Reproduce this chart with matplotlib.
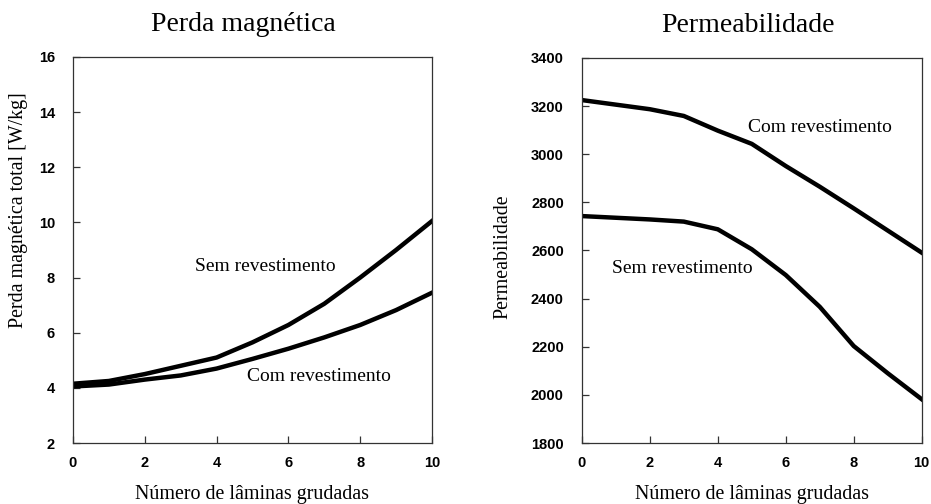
import numpy as np
import matplotlib.pyplot as plt

# dados
laminas = [0, 1, 2, 3, 4, 5, 6, 7, 8, 9, 10]
perda_sem = [4.15, 4.25, 4.5, 4.8, 5.1, 5.65, 6.28, 7.05, 8.0, 9.0, 10.05]
perda_com = [4.05, 4.12, 4.3, 4.45, 4.7, 5.05, 5.42, 5.83, 6.28, 6.82, 7.45]

laminas_p = [0, 2, 3, 4, 5, 6, 7, 8, 9, 10]
perm_com = [3225, 3187, 3159, 3098, 3043, 2951, 2865, 2775, 2683, 2591]
perm_sem = [2743, 2729, 2720, 2688, 2605, 2498, 2366, 2203, 2090, 1982]

serif = 'Liberation Serif'
sans = 'Liberation Sans'

fig = plt.figure(figsize=(9.31, 5.04), dpi=100)
ax1 = fig.add_axes([0.0784, 0.121, 0.3856, 0.766])
ax2 = fig.add_axes([0.625, 0.121, 0.365, 0.764])


def estilo(ax):
    for s in ax.spines.values():
        s.set_linewidth(0.9)
        s.set_color('#333333')
    ax.tick_params(direction='in', length=5, width=0.9, color='#333333')
    ax.tick_params(axis='y', pad=13)
    ax.tick_params(axis='x', pad=9)
    for lab in ax.get_xticklabels() + ax.get_yticklabels():
        lab.set_fontfamily(sans)
        lab.set_fontweight('bold')
        lab.set_fontsize(10.5)
    ax.set_xlabel('Número de lâminas grudadas', family=serif, fontsize=14.4, labelpad=11)


ax1.plot(laminas, perda_sem, color='black', lw=3.2)
ax1.plot(laminas, perda_com, color='black', lw=3.2)
ax1.set_xlim(0, 10)
ax1.set_ylim(2, 16)
ax1.set_xticks(range(0, 11, 2))
ax1.set_yticks(range(2, 17, 2))
ax1.set_title('Perda magnética', family=serif, fontsize=20, pad=19, x=0.474)
ax1.set_ylabel('Perda magnética total [W/kg]', family=serif, fontsize=14.4)
ax1.yaxis.set_label_coords(-0.125, 0.604)
ax1.text(3.40, 8.4, 'Sem revestimento', family=serif, fontsize=14, va='center')
ax1.text(4.85, 4.4, 'Com revestimento', family=serif, fontsize=14, va='center')
estilo(ax1)

ax2.plot(laminas_p, perm_com, color='black', lw=3.2)
ax2.plot(laminas_p, perm_sem, color='black', lw=3.2)
ax2.set_xlim(0, 10)
ax2.set_ylim(1800, 3400)
ax2.set_xticks(range(0, 11, 2))
ax2.set_yticks(range(1800, 3401, 200))
ax2.set_title('Permeabilidade', family=serif, fontsize=20, pad=19, x=0.488)
ax2.set_ylabel('Permeabilidade', family=serif, fontsize=14.4)
ax2.yaxis.set_label_coords(-0.203, 0.483)
ax2.text(4.9, 3113, 'Com revestimento', family=serif, fontsize=14, va='center')
ax2.text(0.9, 2527, 'Sem revestimento', family=serif, fontsize=14, va='center')
estilo(ax2)

fig.savefig('out.png', dpi=100)
